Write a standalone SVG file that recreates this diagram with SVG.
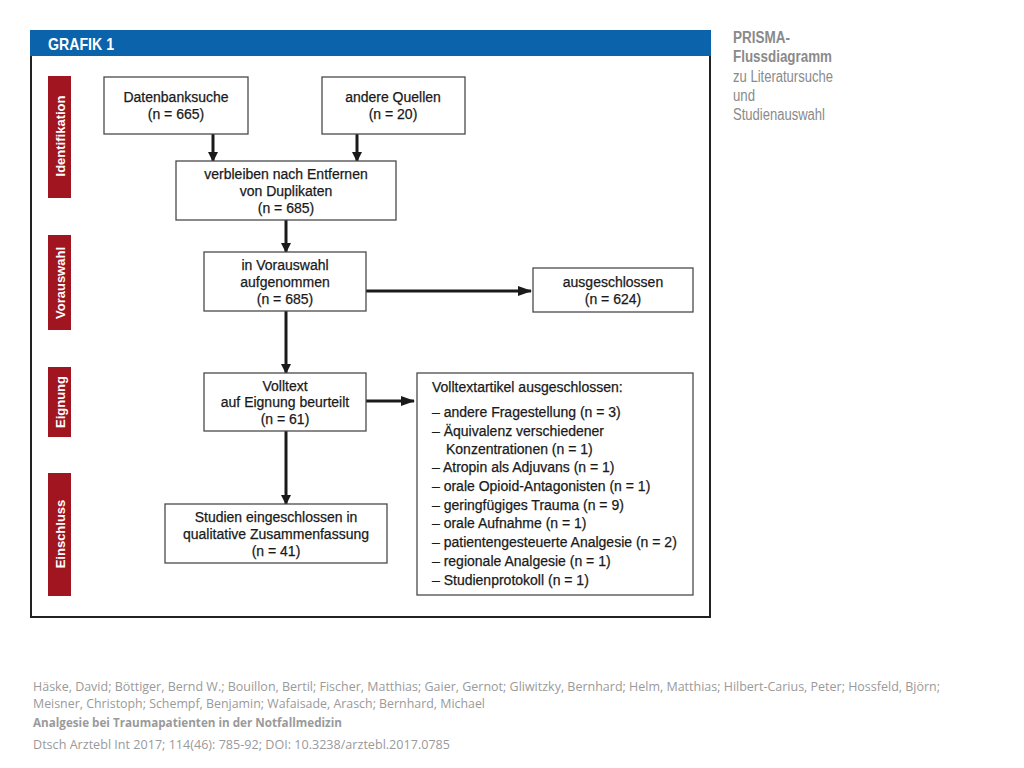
<svg xmlns="http://www.w3.org/2000/svg" width="1024" height="768" viewBox="0 0 1024 768">
<defs>
<style>
.box{fill:#fff;stroke:#4a4a4a;stroke-width:1.3}
.t{font-family:"Liberation Sans",Arial,sans-serif;font-size:14px;fill:#1a1a1a;text-anchor:middle;stroke:#1a1a1a;stroke-width:0.25}
.l{font-family:"Liberation Sans",Arial,sans-serif;font-size:14px;fill:#1a1a1a;stroke:#1a1a1a;stroke-width:0.25}
.lab{fill:#a0151f}
.labt{font-family:"Liberation Sans",Arial,sans-serif;font-size:13px;font-weight:bold;fill:#fff;text-anchor:middle}
.side{font-family:"Liberation Sans",Arial,sans-serif;font-size:16px;fill:#8a8a8a}
.foot{font-family:"Open Sans","Liberation Sans",sans-serif;font-size:13px;fill:#9a9a9a}
.ln{stroke:#1a1a1a;stroke-width:3;fill:none}
</style>
<marker id="ah" markerWidth="10" markerHeight="10" refX="9" refY="5" orient="auto" markerUnits="userSpaceOnUse">
<path d="M0,0 L10,5 L0,10 Z" fill="#1a1a1a"/>
</marker>
<marker id="ahw" markerWidth="14" markerHeight="10" refX="13" refY="5" orient="auto" markerUnits="userSpaceOnUse">
<path d="M0,0 L14,5 L0,10 Z" fill="#1a1a1a"/>
</marker>
</defs>
<rect width="1024" height="768" fill="#fff"/>
<g id="frame">
<rect x="31" y="31" width="679" height="586" fill="#fff" stroke="#222" stroke-width="2"/>
<rect x="30" y="30" width="681" height="26" fill="#0b63ab"/>
<text x="48" y="50" font-family="Liberation Sans,Arial,sans-serif" font-size="17" font-weight="bold" fill="#fff" textLength="66" lengthAdjust="spacingAndGlyphs">GRAFIK 1</text>
</g>
<g id="labels">
<rect class="lab" x="48" y="76" width="23" height="122"/>
<text class="labt" transform="translate(64.5,136) rotate(-90)">Identifikation</text>
<rect class="lab" x="48" y="235" width="23" height="95"/>
<text class="labt" transform="translate(64.5,283) rotate(-90)">Vorauswahl</text>
<rect class="lab" x="48" y="367" width="23" height="70"/>
<text class="labt" transform="translate(64.5,402) rotate(-90)">Eignung</text>
<rect class="lab" x="48" y="473" width="23" height="123"/>
<text class="labt" transform="translate(64.5,534) rotate(-90)">Einschluss</text>
</g>
<g id="connectors">
<line class="ln" x1="213" y1="134" x2="213" y2="161" marker-end="url(#ah)"/>
<line class="ln" x1="357" y1="134" x2="357" y2="161" marker-end="url(#ah)"/>
<line class="ln" x1="286" y1="220" x2="286" y2="252" marker-end="url(#ah)"/>
<line class="ln" x1="286" y1="311" x2="286" y2="373" marker-end="url(#ah)"/>
<line class="ln" x1="286" y1="431" x2="286" y2="504" marker-end="url(#ah)"/>
<line class="ln" x1="366" y1="291" x2="531" y2="291" stroke-width="4" marker-end="url(#ahw)"/>
<line class="ln" x1="366" y1="401" x2="414" y2="401" marker-end="url(#ahw)"/>
</g>
<g id="n-datenbank">
<rect class="box" x="104" y="77" width="144" height="57"/>
<text class="t" x="176" y="102">Datenbanksuche</text>
<text class="t" x="176" y="119">(n = 665)</text>
</g>
<g id="n-quellen">
<rect class="box" x="322" y="77" width="143" height="57"/>
<text class="t" x="393" y="102">andere Quellen</text>
<text class="t" x="393" y="119">(n = 20)</text>
</g>
<g id="n-verbleiben">
<rect class="box" x="176" y="161" width="220" height="59"/>
<text class="t" x="286" y="179">verbleiben nach Entfernen</text>
<text class="t" x="286" y="196">von Duplikaten</text>
<text class="t" x="286" y="213">(n = 685)</text>
</g>
<g id="n-vorauswahl">
<rect class="box" x="204" y="252" width="162" height="59"/>
<text class="t" x="285" y="270">in Vorauswahl</text>
<text class="t" x="285" y="287">aufgenommen</text>
<text class="t" x="285" y="304">(n = 685)</text>
</g>
<g id="n-ausgeschlossen">
<rect class="box" x="533" y="268" width="160" height="44"/>
<text class="t" x="613" y="287">ausgeschlossen</text>
<text class="t" x="613" y="304">(n = 624)</text>
</g>
<g id="n-volltext">
<rect class="box" x="204" y="373" width="162" height="58"/>
<text class="t" x="285" y="391">Volltext</text>
<text class="t" x="285" y="407">auf Eignung beurteilt</text>
<text class="t" x="285" y="424">(n = 61)</text>
</g>
<g id="n-artikel">
<rect class="box" x="417" y="373" width="276" height="222"/>
<text class="l" x="432" y="392">Volltextartikel ausgeschlossen:</text>
<text class="l" x="432" y="417">– andere Fragestellung (n = 3)</text>
<text class="l" x="432" y="436">– Äquivalenz verschiedener</text>
<text class="l" x="446" y="454">Konzentrationen (n = 1)</text>
<text class="l" x="432" y="472">– Atropin als Adjuvans (n = 1)</text>
<text class="l" x="432" y="491">– orale Opioid-Antagonisten (n = 1)</text>
<text class="l" x="432" y="510">– geringfügiges Trauma (n = 9)</text>
<text class="l" x="432" y="528">– orale Aufnahme (n = 1)</text>
<text class="l" x="432" y="547">– patientengesteuerte Analgesie (n = 2)</text>
<text class="l" x="432" y="566">– regionale Analgesie (n = 1)</text>
<text class="l" x="432" y="585">– Studienprotokoll (n = 1)</text>
</g>
<g id="n-studien">
<rect class="box" x="165" y="504" width="222" height="59"/>
<text class="t" x="276" y="522">Studien eingeschlossen in</text>
<text class="t" x="276" y="539">qualitative Zusammenfassung</text>
<text class="t" x="276" y="556">(n = 41)</text>
</g>
<g id="side">
<text class="side" x="733" y="43" font-weight="bold" textLength="57" lengthAdjust="spacingAndGlyphs">PRISMA-</text>
<text class="side" x="733" y="62" font-weight="bold" textLength="99" lengthAdjust="spacingAndGlyphs">Flussdiagramm</text>
<text class="side" x="733" y="82" textLength="100" lengthAdjust="spacingAndGlyphs">zu Literatursuche</text>
<text class="side" x="733" y="101" textLength="22" lengthAdjust="spacingAndGlyphs">und</text>
<text class="side" x="733" y="120" textLength="92" lengthAdjust="spacingAndGlyphs">Studienauswahl</text>
</g>
<g id="footer">
<text class="foot" x="33" y="691" textLength="907" lengthAdjust="spacingAndGlyphs">Häske, David; Böttiger, Bernd W.; Bouillon, Bertil; Fischer, Matthias; Gaier, Gernot; Gliwitzky, Bernhard; Helm, Matthias; Hilbert-Carius, Peter; Hossfeld, Björn;</text>
<text class="foot" x="33" y="708" textLength="452" lengthAdjust="spacingAndGlyphs">Meisner, Christoph; Schempf, Benjamin; Wafaisade, Arasch; Bernhard, Michael</text>
<text class="foot" x="33" y="727" font-weight="bold" textLength="309" lengthAdjust="spacingAndGlyphs">Analgesie bei Traumapatienten in der Notfallmedizin</text>
<text class="foot" x="33" y="749" textLength="417" lengthAdjust="spacingAndGlyphs">Dtsch Arztebl Int 2017; 114(46): 785-92; DOI: 10.3238/arztebl.2017.0785</text>
</g>
</svg>
